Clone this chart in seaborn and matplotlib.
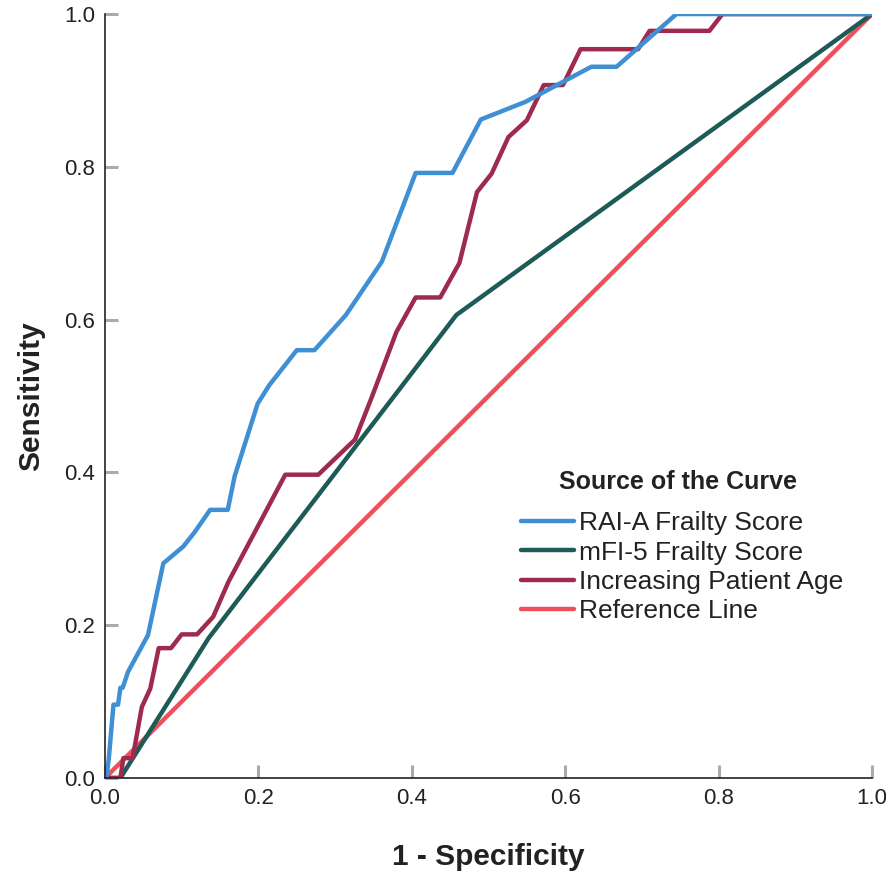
import numpy as np
import pandas as pd
import matplotlib
matplotlib.use("Agg")
import matplotlib.pyplot as plt
import seaborn as sns

# ROC curve points
rai_x = [0.0, 0.002, 0.005, 0.011, 0.017, 0.020, 0.023, 0.030, 0.056, 0.076, 0.102, 0.117,
         0.137, 0.160, 0.169, 0.199, 0.214, 0.250, 0.273, 0.314, 0.361, 0.405, 0.453,
         0.490, 0.548, 0.634, 0.667, 0.745, 1.0]
rai_y = [0.0, 0.002, 0.026, 0.096, 0.096, 0.118, 0.118, 0.139, 0.187, 0.281, 0.303, 0.322,
         0.351, 0.351, 0.395, 0.490, 0.514, 0.560, 0.560, 0.606, 0.676, 0.792, 0.792,
         0.862, 0.885, 0.931, 0.931, 1.0, 1.0]

mfi_x = [0.0, 0.020, 0.135, 0.458, 1.0]
mfi_y = [0.0, 0.0, 0.183, 0.606, 1.0]

age_x = [0.0, 0.020, 0.024, 0.036, 0.048, 0.059, 0.070, 0.086, 0.100, 0.120, 0.141, 0.161,
         0.235, 0.278, 0.326, 0.348, 0.380, 0.405, 0.437, 0.462, 0.485, 0.504, 0.526,
         0.550, 0.572, 0.597, 0.620, 0.695, 0.710, 0.788, 0.805, 1.0]
age_y = [0.0, 0.0, 0.026, 0.026, 0.093, 0.117, 0.170, 0.170, 0.188, 0.188, 0.211, 0.257,
         0.397, 0.397, 0.443, 0.499, 0.584, 0.629, 0.629, 0.674, 0.767, 0.791, 0.839,
         0.861, 0.907, 0.907, 0.954, 0.954, 0.978, 0.978, 1.0, 1.0]

ref_x = [0.0, 1.0]
ref_y = [0.0, 1.0]

labels = ['RAI-A Frailty Score', 'mFI-5 Frailty Score', 'Increasing Patient Age', 'Reference Line']
colors = ['#3f8fd4', '#1d5c56', '#9e2a50', '#ef4f5a']

sns.set_style("white")
plt.rcParams['font.family'] = ['Liberation Sans', 'DejaVu Sans']

fig = plt.figure(figsize=(8.87, 8.72), dpi=100)
ax = fig.add_axes([0.1184, 0.1078, 0.8647, 0.8761])

series = [(rai_x, rai_y), (mfi_x, mfi_y), (age_x, age_y), (ref_x, ref_y)]
# reference line drawn first so the curves sit on top
order = [3, 1, 2, 0]
for i in order:
    xs, ys = series[i]
    df = pd.DataFrame({'x': xs, 'y': ys})
    sns.lineplot(data=df, x='x', y='y', ax=ax, sort=False, estimator=None,
                 color=colors[i], linewidth=3.2, label=labels[i])

ax.set_xlim(0, 1)
ax.set_ylim(0, 1)
ticks = [0.0, 0.2, 0.4, 0.6, 0.8, 1.0]
ax.set_xticks(ticks)
ax.set_yticks(ticks)
ax.set_xticklabels([f"{t:.1f}" for t in ticks])
ax.set_yticklabels([f"{t:.1f}" for t in ticks])
ax.tick_params(axis='both', direction='in', length=9.5, width=2.2, color='#aaaaaa',
               labelsize=16, labelcolor='#222222', pad=7, bottom=True, left=True)
for s in ['top', 'right']:
    ax.spines[s].set_visible(False)
for s in ['left', 'bottom']:
    ax.spines[s].set_color('#222222')
    ax.spines[s].set_linewidth(1.2)

ax.set_xlabel('1 - Specificity', fontsize=21.5, fontweight='bold', color='#222222', labelpad=25)
ax.set_ylabel('Sensitivity', fontsize=21.5, fontweight='bold', color='#222222', labelpad=14)

handles, labs = ax.get_legend_handles_labels()
hmap = dict(zip(labs, handles))
leg = ax.legend([hmap[l] for l in labels], labels,
                loc='upper left', bbox_to_anchor=(0.536, 0.356), frameon=False,
                fontsize=19, handlelength=2.0, handletextpad=0.2, labelspacing=0.2,
                borderpad=0.2, borderaxespad=0.0)
for t in leg.get_texts():
    t.set_color('#222222')
ax.text(0.747, 0.388, 'Source of the Curve', transform=ax.transAxes, ha='center',
        va='center', fontsize=18, fontweight='bold', color='#222222')

fig.savefig('out.png', dpi=100)
